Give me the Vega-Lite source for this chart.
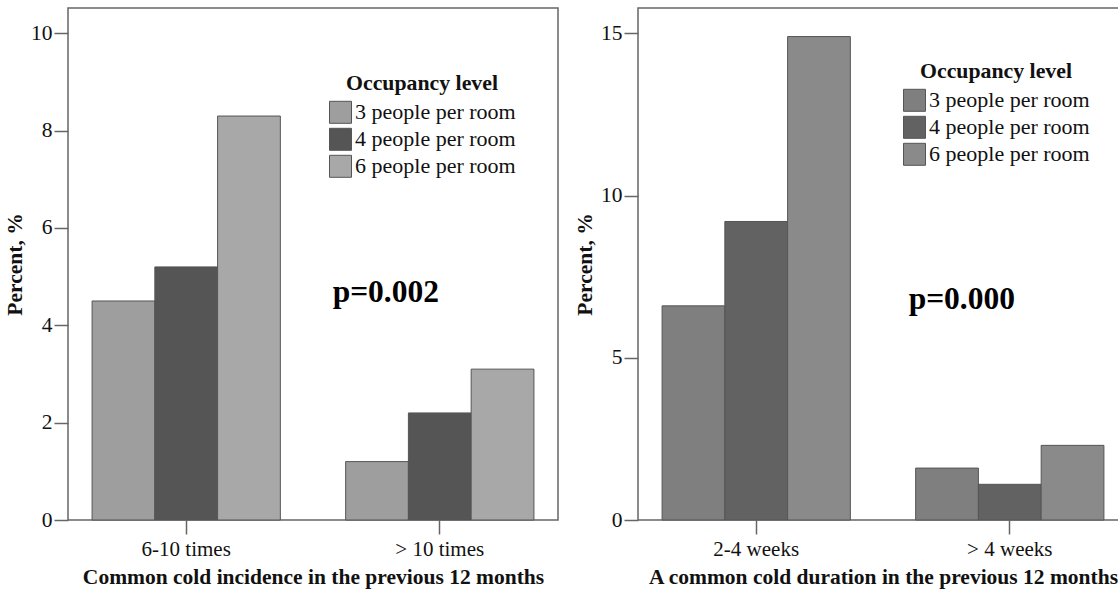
{
  "$schema": "https://vega.github.io/schema/vega-lite/v6.json",
  "background": "white",
  "padding": {"left": 3, "top": 7, "right": 0, "bottom": 0},
  "spacing": 14,
  "config": {
    "font": "Liberation Serif",
    "view": {"stroke": "#666666", "strokeWidth": 1.5},
    "axis": {
      "labelFont": "Liberation Serif", "labelFontSize": 21, "labelColor": "#111111",
      "titleFont": "Liberation Serif", "titleFontSize": 21.5, "titleFontWeight": "bold", "titleColor": "#111111",
      "tickColor": "#666666", "tickWidth": 1.5, "tickSize": 14, "domain": false, "grid": false
    },
    "axisY": {"labelFontSize": 21.5},
    "legend": {
      "labelFont": "Liberation Serif", "labelFontSize": 22, "labelColor": "#111111", "labelLimit": 400,
      "titleFont": "Liberation Serif", "titleFontSize": 21.8, "titleFontWeight": "bold", "titleColor": "#111111", "titleLimit": 400,
      "symbolType": "square", "symbolSize": 484, "symbolStrokeColor": "#555555", "symbolStrokeWidth": 1,
      "rowPadding": 0, "labelOffset": 3, "titlePadding": 6, "padding": 0, "titleAnchor": "middle",
      "orient": "none", "direction": "vertical"
    }
  },
  "datasets": {
    "incidence": [
      {"category": "6-10 times", "group": "3 people per room", "value": 4.5},
      {"category": "6-10 times", "group": "4 people per room", "value": 5.2},
      {"category": "6-10 times", "group": "6 people per room", "value": 8.3},
      {"category": "> 10 times", "group": "3 people per room", "value": 1.2},
      {"category": "> 10 times", "group": "4 people per room", "value": 2.2},
      {"category": "> 10 times", "group": "6 people per room", "value": 3.1}
    ],
    "duration": [
      {"category": "2-4 weeks", "group": "3 people per room", "value": 6.6},
      {"category": "2-4 weeks", "group": "4 people per room", "value": 9.2},
      {"category": "2-4 weeks", "group": "6 people per room", "value": 14.9},
      {"category": "> 4 weeks", "group": "3 people per room", "value": 1.6},
      {"category": "> 4 weeks", "group": "4 people per room", "value": 1.1},
      {"category": "> 4 weeks", "group": "6 people per room", "value": 2.3}
    ]
  },
  "hconcat": [
    {
      "width": 490, "height": 512,
      "layer": [
        {
          "data": {"name": "incidence"},
          "mark": {"type": "bar", "stroke": "#555555", "strokeWidth": 1},
          "encoding": {
            "x": {"field": "category", "type": "nominal", "sort": ["6-10 times", "> 10 times"],
                  "scale": {"paddingInner": 0.2575, "paddingOuter": 0.095},
                  "axis": {"title": "Common cold incidence in the previous 12 months", "labelAngle": 0, "labelPadding": 4, "titlePadding": 7}},
            "xOffset": {"field": "group", "type": "nominal", "sort": ["3 people per room", "4 people per room", "6 people per room"]},
            "y": {"field": "value", "type": "quantitative", "scale": {"domain": [0, 10.52], "nice": false},
                  "axis": {"title": "Percent, %", "values": [0, 2, 4, 6, 8, 10], "labelPadding": 2, "titlePadding": 4}},
            "fill": {"field": "group", "type": "nominal",
                     "scale": {"domain": ["3 people per room", "4 people per room", "6 people per room"], "range": ["#9e9e9e", "#555555", "#a8a8a8"]},
                     "legend": {"title": "Occupancy level", "legendX": 261, "legendY": 65}}
          }
        },
        {
          "data": {"values": [{}]},
          "mark": {"type": "text", "text": "p=0.002", "fontSize": 31.5, "fontWeight": "bold", "align": "left", "baseline": "alphabetic", "dx": -13, "color": "#000000", "font": "Liberation Serif"},
          "encoding": {
            "x": {"datum": "> 10 times", "bandPosition": 0},
            "y": {"datum": 4.475}
          }
        }
      ]
    },
    {
      "width": 490, "height": 512,
      "layer": [
        {
          "data": {"name": "duration"},
          "mark": {"type": "bar", "stroke": "#555555", "strokeWidth": 1},
          "encoding": {
            "x": {"field": "category", "type": "nominal", "sort": ["2-4 weeks", "> 4 weeks"],
                  "scale": {"paddingInner": 0.2575, "paddingOuter": 0.095},
                  "axis": {"title": "A common cold duration in the previous 12 months", "labelAngle": 0, "labelPadding": 4, "titlePadding": 7}},
            "xOffset": {"field": "group", "type": "nominal", "sort": ["3 people per room", "4 people per room", "6 people per room"]},
            "y": {"field": "value", "type": "quantitative", "scale": {"domain": [0, 15.78], "nice": false},
                  "axis": {"title": "Percent, %", "values": [0, 5, 10, 15], "labelPadding": 2, "titlePadding": 4}},
            "fill": {"field": "group", "type": "nominal",
                     "scale": {"domain": ["3 people per room", "4 people per room", "6 people per room"], "range": ["#7f7f7f", "#626262", "#8a8a8a"]},
                     "legend": {"title": "Occupancy level", "legendX": 265, "legendY": 53}}
          }
        },
        {
          "data": {"values": [{}]},
          "mark": {"type": "text", "text": "p=0.000", "fontSize": 31.5, "fontWeight": "bold", "align": "left", "baseline": "alphabetic", "dx": -7, "color": "#000000", "font": "Liberation Serif"},
          "encoding": {
            "x": {"datum": "> 4 weeks", "bandPosition": 0},
            "y": {"datum": 6.5}
          }
        }
      ]
    }
  ],
  "resolve": {"scale": {"fill": "independent", "x": "independent", "y": "independent"}, "legend": {"fill": "independent"}}
}
